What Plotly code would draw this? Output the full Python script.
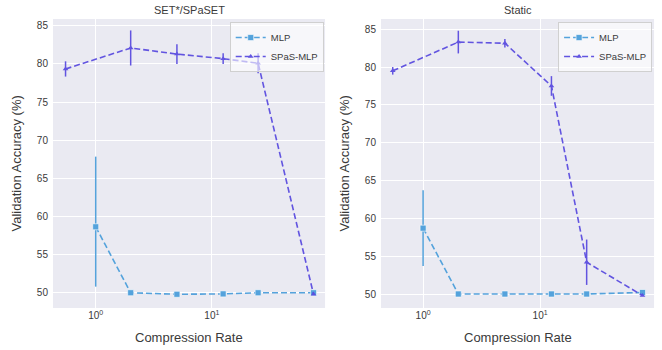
import plotly.graph_objects as go

# ---- data ----
panel_titles = ["SET*/SPaSET", "Static"]
mlp_x = [1, 2, 5, 12.5, 25, 75]
spas_x = [0.55, 2, 5, 12.5, 25, 75]

# SET*/SPaSET
mlp_y_set = [58.65, 50.0, 49.8, 49.85, 50.0, 50.0]
mlp_err_up_set = [9.2, 0.0, 0.0, 0.0, 0.0, 0.0]
mlp_err_dn_set = [7.85, 0.0, 0.0, 0.0, 0.0, 0.0]
spas_y_set = [79.35, 82.1, 81.3, 80.7, 80.1, 49.8]
spas_err_set = [1.0, 2.3, 1.3, 0.7, 1.3, 0.0]

# Static
mlp_y_static = [58.7, 50.0, 50.0, 50.0, 50.0, 50.2]
mlp_err_up_static = [5.0, 0.0, 0.0, 0.0, 0.0, 0.0]
mlp_err_dn_static = [5.0, 0.0, 0.0, 0.0, 0.0, 0.0]
spas_y_static = [79.5, 83.3, 83.15, 77.5, 54.2, 49.8]
spas_err_static = [0.5, 1.5, 0.55, 1.3, 3.0, 0.0]

x_tickvals = [1, 10]
x_ticktext = ["10<sup>0</sup>", "10<sup>1</sup>"]
y_tickvals = [50, 55, 60, 65, 70, 75, 80, 85]

MLP_C = "#4C9FDB"
SPAS_C = "#5B4DE0"
FONT = "Liberation Sans, Arial, sans-serif"
TXT = "#3a3a3a"

fig = go.Figure()

panels = [
    (mlp_y_set, mlp_err_up_set, mlp_err_dn_set, spas_y_set, spas_err_set),
    (mlp_y_static, mlp_err_up_static, mlp_err_dn_static, spas_y_static, spas_err_static),
]

for i, (my, meu, med, sy, se) in enumerate(panels):
    xa = "x" if i == 0 else "x2"
    ya = "y" if i == 0 else "y2"
    lg = "legend" if i == 0 else "legend2"
    fig.add_trace(go.Scatter(
        x=mlp_x, y=my, name="MLP", mode="lines+markers",
        line=dict(color=MLP_C, width=1.6, dash="6px,3px"),
        marker=dict(symbol="square", size=6, color=MLP_C, line=dict(color="white", width=0.6)),
        error_y=dict(type="data", symmetric=False, array=meu, arrayminus=med, visible=True,
                     color=MLP_C, thickness=1.5, width=0),
        xaxis=xa, yaxis=ya, legend=lg, opacity=0.95,
    ))
    fig.add_trace(go.Scatter(
        x=spas_x, y=sy, name="SPaS-MLP", mode="lines+markers",
        line=dict(color=SPAS_C, width=1.6, dash="6px,3px"),
        marker=dict(symbol="triangle-up", size=5, color=SPAS_C),
        error_y=dict(type="data", array=se, visible=True, color=SPAS_C, thickness=1.5, width=0),
        xaxis=xa, yaxis=ya, legend=lg, opacity=0.95,
    ))

axis_common = dict(
    showgrid=True, gridcolor="white", gridwidth=1, zeroline=False,
    showline=False, ticks="", tickfont=dict(size=10, color=TXT, family=FONT),
)

xdom1 = [0.080, 0.491]
xdom2 = [0.5755, 0.988]
ydom = [0.12, 0.9457]

fig.update_layout(
    width=662, height=350,
    margin=dict(l=0, r=0, t=0, b=0),
    paper_bgcolor="white",
    plot_bgcolor="#EAEAF2",
    font=dict(family=FONT, color=TXT),
    showlegend=True,
    xaxis=dict(type="log", domain=xdom1, range=[-0.368, 1.974], anchor="y",
               tickvals=x_tickvals, ticktext=x_ticktext, **axis_common),
    xaxis2=dict(type="log", domain=xdom2, range=[-0.36, 1.974], anchor="y2",
                tickvals=x_tickvals, ticktext=x_ticktext, **axis_common),
    yaxis=dict(domain=ydom, range=[48.0, 85.9], anchor="x", tickvals=y_tickvals,
               ticklabelstandoff=4, **axis_common),
    yaxis2=dict(domain=ydom, range=[48.15, 86.35], anchor="x2", tickvals=y_tickvals,
                ticklabelstandoff=4, **axis_common),
    legend=dict(x=0.489, y=0.937, xanchor="right", yanchor="top",
                bgcolor="rgba(255,255,255,0.6)", bordercolor="#d0d0d0", borderwidth=1,
                font=dict(size=9.5, color=TXT, family=FONT), tracegroupgap=0,
                itemwidth=30),
    legend2=dict(x=0.985, y=0.937, xanchor="right", yanchor="top",
                 bgcolor="rgba(255,255,255,0.6)", bordercolor="#d0d0d0", borderwidth=1,
                 font=dict(size=9.5, color=TXT, family=FONT), tracegroupgap=0,
                 itemwidth=30),
)

annotations = [
    dict(text=panel_titles[0], x=(xdom1[0] + xdom1[1]) / 2, y=1 - 10 / 350, xref="paper", yref="paper",
         showarrow=False, font=dict(size=11, color=TXT, family=FONT), xanchor="center", yanchor="middle"),
    dict(text=panel_titles[1], x=(xdom2[0] + xdom2[1]) / 2, y=1 - 10 / 350, xref="paper", yref="paper",
         showarrow=False, font=dict(size=11, color=TXT, family=FONT), xanchor="center", yanchor="middle"),
    dict(text="Compression Rate", x=(xdom1[0] + xdom1[1]) / 2, y=1 - 337 / 350, xref="paper", yref="paper",
         showarrow=False, font=dict(size=13, color=TXT, family=FONT), xanchor="center", yanchor="middle"),
    dict(text="Compression Rate", x=(xdom2[0] + xdom2[1]) / 2, y=1 - 337 / 350, xref="paper", yref="paper",
         showarrow=False, font=dict(size=13, color=TXT, family=FONT), xanchor="center", yanchor="middle"),
    dict(text="Validation Accuracy (%)", x=17 / 662, y=(ydom[0] + ydom[1]) / 2, xref="paper", yref="paper",
         showarrow=False, textangle=-90, font=dict(size=13, color=TXT, family=FONT),
         xanchor="center", yanchor="middle"),
    dict(text="Validation Accuracy (%)", x=345 / 662, y=(ydom[0] + ydom[1]) / 2, xref="paper", yref="paper",
         showarrow=False, textangle=-90, font=dict(size=13, color=TXT, family=FONT),
         xanchor="center", yanchor="middle"),
]
fig.update_layout(annotations=annotations)

fig.write_html(
    "out.html",
    config={"displayModeBar": False},
    post_script="document.body.style.margin='0px';document.body.style.overflow='hidden';",
)
